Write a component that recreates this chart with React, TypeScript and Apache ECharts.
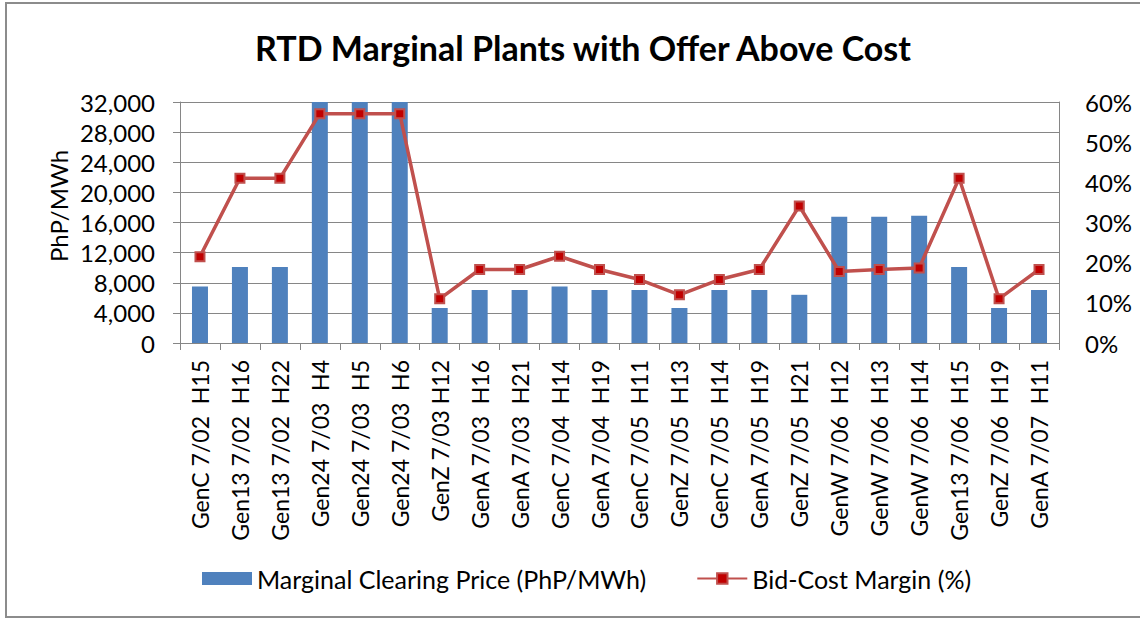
import React, { useEffect, useRef } from "react";
import * as echarts from "echarts";

const categories = [
  "GenC 7/02  H15",
  "Gen13 7/02  H16",
  "Gen13 7/02  H22",
  "Gen24 7/03  H4",
  "Gen24 7/03  H5",
  "Gen24 7/03  H6",
  "GenZ 7/03 H12",
  "GenA 7/03  H16",
  "GenA 7/03  H21",
  "GenC 7/04  H14",
  "GenA 7/04  H19",
  "GenC 7/05  H11",
  "GenZ 7/05  H13",
  "GenC 7/05  H14",
  "GenA 7/05  H19",
  "GenZ 7/05  H21",
  "GenW 7/06  H12",
  "GenW 7/06  H13",
  "GenW 7/06  H14",
  "Gen13 7/06  H15",
  "GenZ 7/06  H19",
  "GenA 7/07  H11",
];

const clearingPrice = [
  7500, 10100, 10100, 32000, 32000, 32000, 4650, 7050, 7050, 7500, 7050,
  7050, 4650, 7050, 7050, 6400, 16750, 16750, 16900, 10100, 4650, 7050,
];

const bidCostMargin = [
  21.5, 41.0, 41.0, 57.1, 57.1, 57.1, 11.0, 18.3, 18.3, 21.6, 18.3, 15.8,
  12.0, 15.8, 18.3, 34.1, 17.8, 18.3, 18.7, 41.0, 11.0, 18.3,
];

const leftTicks = { min: 0, max: 32000, interval: 4000 };
const rightTicks = { min: 0, max: 60, interval: 10 };

const FONT = "Lato";
const GRID_COLOR = "#868686";

export default function App() {
  const ref = useRef<HTMLDivElement>(null);
  useEffect(() => {
    if (!ref.current) return;
    const chart = echarts.init(ref.current, undefined, { renderer: "svg" });
    chart.setOption({
      animation: false,
      backgroundColor: "#ffffff",
      textStyle: { fontFamily: FONT, color: "#000" },
      title: {
        text: "RTD Marginal Plants with Offer Above Cost",
        left: 578,
        top: 25,
        textAlign: "center",
        textStyle: { fontFamily: FONT, fontWeight: "bold", fontSize: 34, color: "#000" },
      },
      legend: {
        left: 197,
        top: 561,
        itemWidth: 50,
        itemHeight: 13,
        itemGap: 50,
        textStyle: { fontFamily: FONT, fontSize: 25, color: "#000" },
        data: [
          { name: "Marginal Clearing Price (PhP/MWh)", icon: "rect" },
          { name: "Bid-Cost Margin (%)" },
        ],
      },
      grid: { left: 180, right: 81, top: 102, bottom: 276, containLabel: false },
      xAxis: {
        type: "category",
        data: categories,
        axisLine: { show: true, lineStyle: { color: GRID_COLOR, width: 1 } },
        axisTick: { show: true, length: 7, lineStyle: { color: GRID_COLOR } },
        axisLabel: {
          rotate: 90,
          interval: 0,
          margin: 17,
          fontFamily: FONT,
          fontSize: 23,
          color: "#000",
        },
      },
      yAxis: [
        {
          type: "value",
          ...leftTicks,
          axisLine: { show: true, lineStyle: { color: GRID_COLOR } },
          axisTick: { show: true, length: 7, lineStyle: { color: GRID_COLOR } },
          splitLine: { show: true, lineStyle: { color: GRID_COLOR, width: 1 } },
          axisLabel: {
            margin: 25,
            fontFamily: FONT,
            fontSize: 24,
            color: "#000",
            formatter: (v: number) => v.toLocaleString("en-US"),
          },
        },
        {
          type: "value",
          ...rightTicks,
          position: "right",
          axisLine: { show: true, lineStyle: { color: GRID_COLOR } },
          axisTick: { show: false },
          splitLine: { show: false },
          axisLabel: {
            margin: 26,
            fontFamily: FONT,
            fontSize: 24,
            color: "#000",
            formatter: (v: number) => `${v}%`,
          },
        },
      ],
      graphic: [
        {
          type: "rect",
          shape: { x: 6, y: 3, width: 1200, height: 614 },
          style: { fill: "none", stroke: "#8c8c8c", lineWidth: 2 },
          silent: true,
        },
        {
          type: "text",
          x: 58,
          y: 206,
          rotation: Math.PI / 2,
          style: {
            text: "PhP/MWh",
            fontFamily: FONT,
            fontSize: 24,
            fill: "#000",
            textAlign: "center",
            textVerticalAlign: "middle",
          },
        },
      ],
      series: [
        {
          name: "Marginal Clearing Price (PhP/MWh)",
          type: "bar",
          data: clearingPrice,
          barWidth: 16,
          clip: true,
          itemStyle: { color: "#4F81BD" },
        },
        {
          name: "Bid-Cost Margin (%)",
          type: "line",
          yAxisIndex: 1,
          data: bidCostMargin,
          symbol: "rect",
          symbolSize: 9,
          lineStyle: { color: "#C0504D", width: 3.5 },
          itemStyle: { color: "#C00000", borderColor: "#C0504D", borderWidth: 2 },
        },
      ],
    });
    return () => chart.dispose();
  }, []);
  return (
    <div
      ref={ref}
      style={{ position: "absolute", left: 0, top: 0, width: 1140, height: 619 }}
    />
  );
}
